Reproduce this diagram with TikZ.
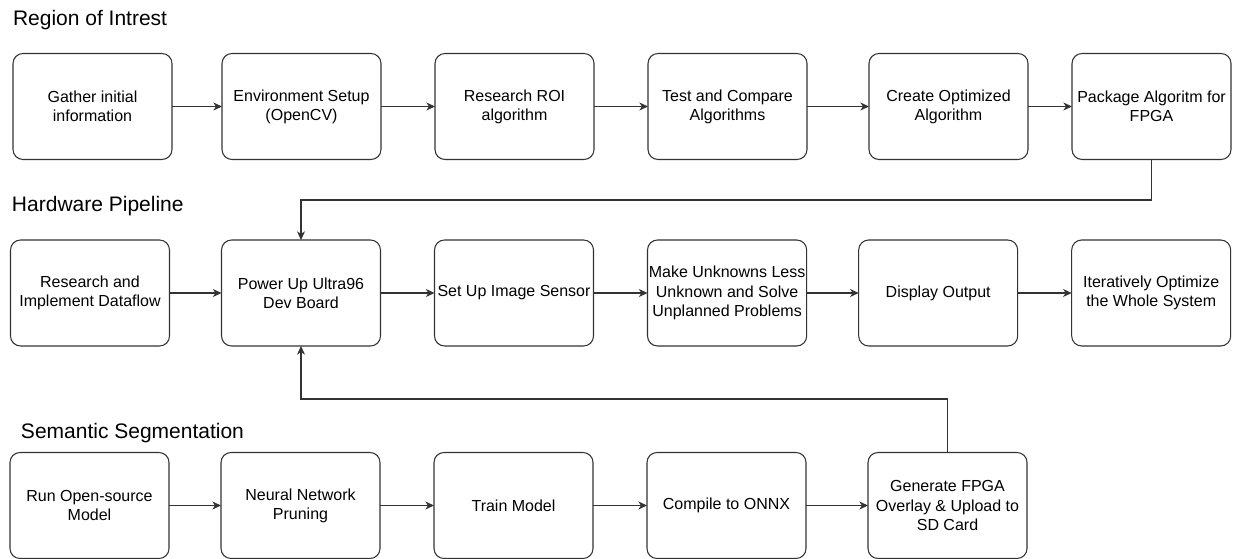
\documentclass[tikz,border=0pt]{standalone}
\usepackage{fontspec}
\setmainfont{Liberation Sans}
\usetikzlibrary{positioning,arrows.meta}
\definecolor{linecolor}{gray}{0.2}

\begin{document}
\begin{tikzpicture}[
	x=0.75pt, y=-0.75pt,
	task/.style={draw=linecolor, line width=0.8pt, rounded corners=7.5pt,
		minimum width=119.25pt, minimum height=79.5pt, inner sep=1pt,
		align=center, font=\fontsize{12}{14.4}\selectfont},
	title/.style={anchor=base west, inner sep=0pt, font=\fontsize{15.75}{18}\selectfont},
	flow/.style={draw=linecolor, line width=0.8pt,
		-{Stealth[length=6.5pt, width=6pt, inset=2pt]}},
	every node/.style={outer sep=0pt},
]
\useasboundingbox (0,0) rectangle (1237,559);
% Section titles.
	\node[title] (roi) at (13,26) {Region of Intrest};
	\node[title] (hw) at (12,212) {Hardware Pipeline};
	\node[title] (seg) at (21,438) {Semantic Segmentation};

% Region of interest.
	\node[task] at (92.5,106.5) (GI) {Gather initial\\information};
	\node[task, right=37.5pt of GI] (ES) {Environment Setup\\(OpenCV)};
	\node[task, right=40.5pt of ES] (RR) {Research ROI\\algorithm};
	\node[task, right=40.5pt of RR] (TC) {Test and Compare\\Algorithms};
	\node[task, right=46.5pt of TC] (CO) {Create Optimized\\Algorithm};
	\node[task, right=33pt of CO] (PA) {Package Algoritm for\\FPGA};

% Hardware pipeline.
	\node[task] at (90,293) (RD) {Research and\\Implement Dataflow};
	\node[task, right=39pt of RD] (PU) {Power Up Ultra96\\Dev Board};
	\node[task, right=40.5pt of PU] (IS) {Set Up Image Sensor};
	\node[task, right=40.5pt of IS] (MU)
		{Make Unknowns Less\\Unknown and Solve\\Unplanned Problems};
	\node[task, right=39pt of MU] (DO) {Display Output};
	\node[task, right=40.5pt of DO] (IO)
		{Iteratively Optimize\\the Whole System};

% Semantic segmentation.
	\node[task] at (89.5,505.5) (RM) {Run Open-source\\Model};
	\node[task, right=39pt of RM] (NP) {Neural Network\\Pruning};
	\node[task, right=40.5pt of NP] (TM) {Train Model};
	\node[task, right=40.5pt of TM] (CX) {Compile to ONNX};
	\node[task, right=46.5pt of CX] (GF)
		{Generate FPGA\\Overlay \& Upload to\\SD Card};

	\draw[flow] (GI) -- (ES);
	\draw[flow] (ES) -- (RR);
	\draw[flow] (RR) -- (TC);
	\draw[flow] (TC) -- (CO);
	\draw[flow] (CO) -- (PA);

	\draw[flow] (RD) -- (PU);
	\draw[flow] (PU) -- (IS);
	\draw[flow] (IS) -- (MU);
	\draw[flow] (MU) -- (DO);
	\draw[flow] (DO) -- (IO);

	\draw[flow] (RM) -- (NP);
	\draw[flow] (NP) -- (TM);
	\draw[flow] (TM) -- (CX);
	\draw[flow] (CX) -- (GF);

% Links between the sections.
	\draw[flow] (PA.south) -- (PA.south |- 0,200) -| (PU.north);
	\draw[flow] (GF.north) -- (GF.north |- 0,399) -| (PU.south);
\end{tikzpicture}
\end{document}
